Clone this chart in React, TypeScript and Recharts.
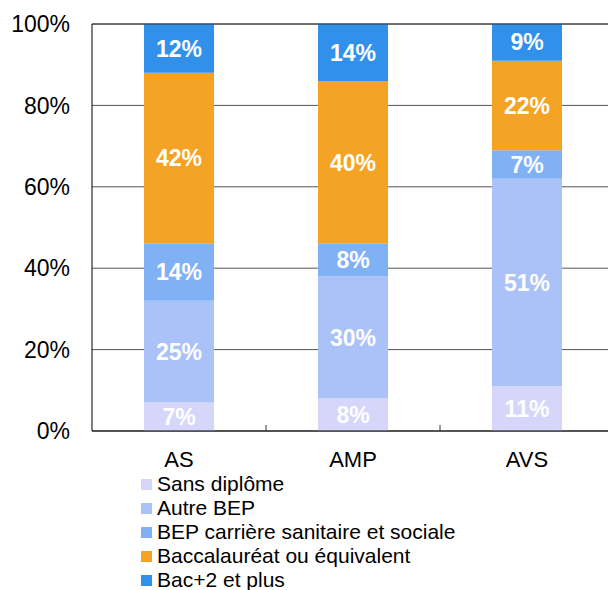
import { BarChart, Bar, XAxis, YAxis, CartesianGrid, LabelList, ReferenceLine } from 'recharts'

const categories = ['AS', 'AMP', 'AVS']
const sansDiplome = [7, 8, 11]
const autreBep = [25, 30, 51]
const bepSanitaire = [14, 8, 7]
const baccalaureat = [42, 40, 22]
const bacPlus2 = [12, 14, 9]
const yTicks = [0, 20, 40, 60, 80, 100]

const series = [
  { key: 'sans', name: 'Sans diplôme', values: sansDiplome, color: '#d6d6fb' },
  { key: 'autre', name: 'Autre BEP', values: autreBep, color: '#abc2f9' },
  { key: 'bep', name: 'BEP carrière sanitaire et sociale', values: bepSanitaire, color: '#7fb1f4' },
  { key: 'bac', name: 'Baccalauréat ou équivalent', values: baccalaureat, color: '#f4a324' },
  { key: 'bac2', name: 'Bac+2 et plus', values: bacPlus2, color: '#3191ea' },
]

const data = categories.map((cat, i) => {
  const row: Record<string, string | number> = { cat }
  series.forEach((s) => {
    row[s.key] = s.values[i]
  })
  return row
})

const font = '"Liberation Sans", Arial, sans-serif'

function CatTick(props: any) {
  const { x, y, payload } = props
  const off = payload?.offset ?? 0
  return (
    <g>
      <line x1={x + off} x2={x + off} y1={y} y2={y - 6} stroke="#333" />
      <text x={x} y={y + 36} textAnchor="middle" fontSize={22} fill="#000" fontFamily={font}>
        {payload.value}
      </text>
    </g>
  )
}

export default function App() {
  return (
    <div style={{ position: 'absolute', left: 0, top: 0, width: 608, height: 590, overflow: 'hidden', background: '#fff', fontFamily: font }}>
      <BarChart
        width={614}
        height={480}
        data={data}
        margin={{ top: 24, right: 0, bottom: 0, left: 0 }}
        barSize={70}
      >
        <CartesianGrid horizontal vertical={false} stroke="#555" strokeWidth={1} />
        <YAxis
          type="number"
          domain={[0, 100]}
          ticks={yTicks}
          width={92}
          tickFormatter={(v: number) => `${v}%`}
          tickLine={false}
          tickSize={0}
          tickMargin={22}
          axisLine={{ stroke: '#000' }}
          tick={{ fontSize: 23, fill: '#000', fontFamily: font }}
        />
        <XAxis
          dataKey="cat"
          height={49}
          tickLine={false}
          tickSize={0}
          tickMargin={0}
          axisLine={{ stroke: '#000' }}
          tick={<CatTick />}
        />
        <ReferenceLine y={100} stroke="#333" />
        {series.map((s) => (
          <Bar key={s.key} dataKey={s.key} name={s.name} stackId="a" fill={s.color} isAnimationActive={false}>
            <LabelList
              dataKey={s.key}
              position="center"
              formatter={(v: any) => `${v}%`}
              fill="#fff"
              fontSize={23}
              fontWeight="bold"
              fontFamily={font}
            />
          </Bar>
        ))}
      </BarChart>
      <div style={{ position: 'absolute', left: 141, top: 472, fontSize: 21, color: '#000' }}>
        {series.map((s) => (
          <div key={s.key} style={{ display: 'flex', alignItems: 'center', height: 24 }}>
            <div style={{ width: 11, height: 11, background: s.color, marginRight: 5 }} />
            <span>{s.name}</span>
          </div>
        ))}
      </div>
    </div>
  )
}
